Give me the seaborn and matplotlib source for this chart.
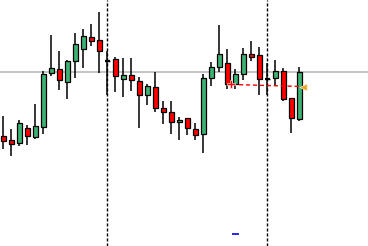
import numpy as np
import pandas as pd
import matplotlib
matplotlib.use("Agg")
import matplotlib.pyplot as plt
import seaborn as sns

# OHLC values (price units)
opens = [114, 110, 107, 122, 113, 123, 177, 181, 168, 189, 201, 213, 210,
         189, 191, 171, 175, 169, 155, 163, 142, 138, 128, 132, 121, 116, 172,
         183, 187, 166, 176, 196, 195, 171, 172, 179, 152, 131]
highs = [134, 121, 130, 125, 146, 179, 215, 199, 190, 217, 221, 226, 238,
         199, 193, 192, 192, 173, 166, 178, 149, 149, 133, 132, 127, 176, 188,
         225, 201, 181, 202, 209, 203, 187, 190, 182, 152, 183]
lows = [101, 94, 104, 105, 111, 116, 174, 160, 151, 172, 182, 204, 177,
        155, 158, 153, 159, 122, 145, 138, 126, 116, 110, 115, 110, 97, 164,
        178, 161, 161, 170, 189, 155, 155, 165, 149, 117, 129]
closes = [109, 106, 127, 114, 124, 176, 182, 170, 189, 206, 214, 209, 199,
          189, 174, 175, 170, 155, 164, 142, 138, 128, 130, 122, 115, 172, 183,
          196, 166, 176, 196, 193, 171, 171, 179, 151, 132, 178]

ref_level = 178          # grey horizontal level
vline_idx = [13, 33]     # session separators
signal_start = (28.6, 165.5)
signal_end = (37.3, 163.5)
blue_mark = (28.9, 16)

df = pd.DataFrame({"i": np.arange(len(opens)), "open": opens, "high": highs,
                   "low": lows, "close": closes})
df["up"] = df["close"] > df["open"]
df["doji"] = df["close"] == df["open"]

sns.set_style("white")
fig = plt.figure(figsize=(3.68, 2.46), dpi=100)
ax = fig.add_axes([0, 0, 1, 1])

GREEN = "#3cb371"
RED = "#ff0000"

# grey reference line
ax.axhline(ref_level, color="#b4b4b4", lw=1.1, zorder=1)

# separators
for v in vline_idx:
    ax.axvline(v, color="black", lw=1.0, linestyle=(0, (2.2, 1.4)), zorder=2)

# wicks
ax.vlines(df["i"], df["low"], df["high"], color="black", lw=1.1, zorder=3)

# bodies
bottoms = np.minimum(df["open"], df["close"])
heights = np.abs(df["close"] - df["open"])
colors = [GREEN if u else RED for u in df["up"]]
body_h = np.where(df["doji"], 0.0, heights)
ax.bar(df["i"], body_h, bottom=bottoms, width=0.58, color=colors,
       edgecolor="black", linewidth=0.9, zorder=4)
# doji ticks
dj = df[df["doji"]]
ax.hlines(dj["close"], dj["i"] - 0.32, dj["i"] + 0.32, color="black", lw=1.6, zorder=5)

# signal line
sig = pd.DataFrame({"x": [signal_start[0], signal_end[0]],
                    "y": [signal_start[1], signal_end[1]]})
sns.lineplot(data=sig, x="x", y="y", ax=ax, color=RED, lw=1.0,
             linestyle=(0, (3, 2)), zorder=6)
sns.scatterplot(x=[signal_start[0] - 0.2], y=[signal_start[1] + 0.7], ax=ax,
                marker="P", s=28, color=RED, edgecolor="white", linewidth=0.4, zorder=7)
sns.scatterplot(x=[signal_end[0] + 0.15], y=[signal_end[1]], ax=ax,
                marker="<", s=28, color="#e8a92a", edgecolor="white", linewidth=0.4, zorder=7)

# blue dash
ax.hlines(blue_mark[1], blue_mark[0] - 0.35, blue_mark[0] + 0.5, color="#0000ff", lw=1.2)

ax.set_xlim(-0.4125, -0.4125 + 368 / 8)
ax.set_ylim(4, 250)
ax.set_xlabel("")
ax.set_ylabel("")
ax.set_xticks([])
ax.set_yticks([])
for s in ax.spines.values():
    s.set_visible(False)

fig.savefig("out.png", dpi=100)
